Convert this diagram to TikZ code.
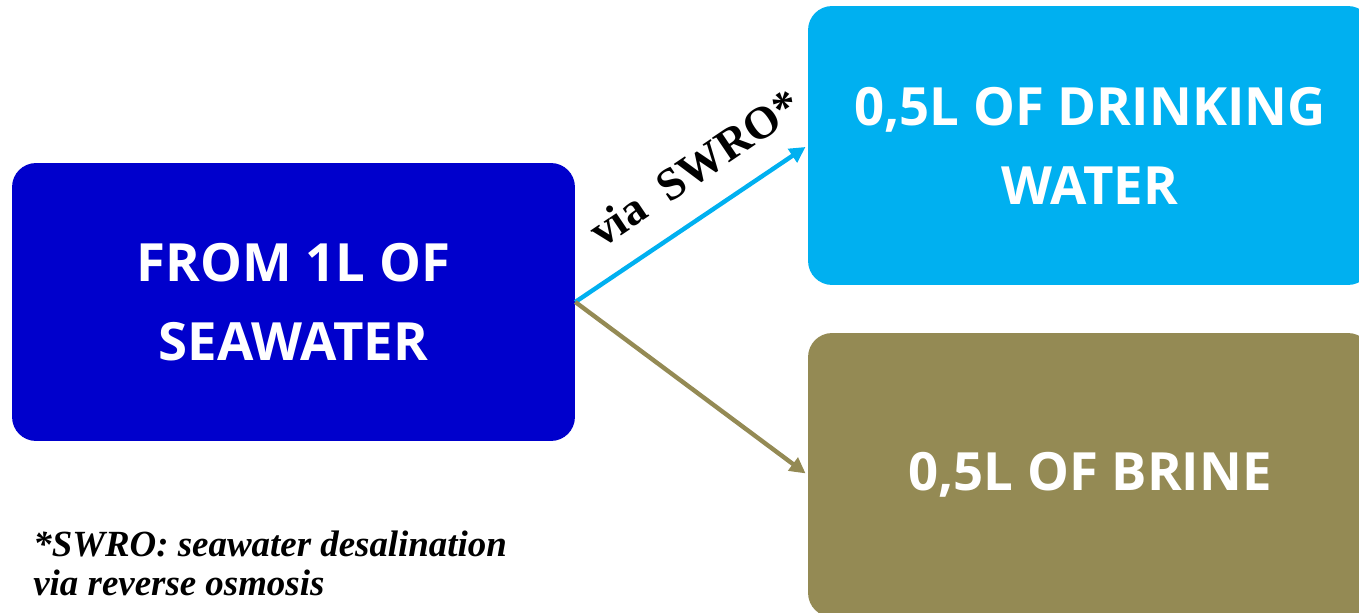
\documentclass[tikz,border=0pt]{standalone}
\usepackage{fontspec}
\setmainfont{Liberation Serif}
\newfontfamily\boxfont{Open Sans}
\usepackage{xcolor}
\usetikzlibrary{arrows.meta,positioning,calc}

\definecolor{seablue}{RGB}{0,0,204}
\definecolor{drinkblue}{RGB}{0,176,240}
\definecolor{brinebrown}{RGB}{148,138,84}

\begin{document}
\begin{tikzpicture}[
    x=0.02cm, y=-0.02cm,
    >={Triangle[length=9pt,width=9pt]},
    box/.style={rounded corners=0.48cm, align=center, inner sep=0pt, text=white,
        font=\boxfont\bfseries\fontsize{30}{45}\selectfont},
    seabox/.style={box, fill=seablue, minimum width=11.26cm, minimum height=5.56cm},
    drinkbox/.style={box, fill=drinkblue, minimum width=11.28cm, minimum height=5.58cm},
    brinebox/.style={box, fill=brinebrown, minimum width=11.28cm, minimum height=5.68cm},
    flow/.style={->, line width=2.5pt, shorten >=1.5pt},
    note/.style={align=left, inner sep=0pt, font=\bfseries\itshape\fontsize{21}{22}\selectfont}
]
\useasboundingbox (0,0) rectangle (1359,612);
\node[seabox] (sea) at (293.5,302) {FROM 1L OF\\SEAWATER};
\node[drinkbox] (drink) at (1090,145.5) {0,5L OF DRINKING\\WATER};
\node[brinebox] (brine) at (1090,475) {0,5L OF BRINE};
\draw[flow, drinkblue] (sea.east) -- (drink.west)
    node[sloped, pos=0.62, above=15pt, inner sep=0pt,
         font=\bfseries\fontsize{26}{26}\selectfont, text=black] (via) {via\ \ SWRO*};
\draw[flow, brinebrown] (sea.east) -- (brine.west);
\node[note, anchor=base west] (swro) at (33,595) {*SWRO: seawater desalination\\via reverse osmosis};
\end{tikzpicture}
\end{document}
